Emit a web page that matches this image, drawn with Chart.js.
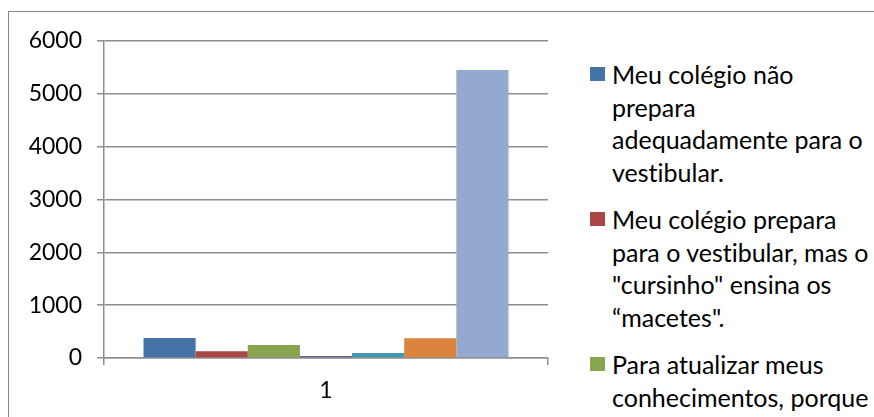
<!DOCTYPE html>
<html>
<head>
<meta charset="utf-8">
<script src="https://cdn.jsdelivr.net/npm/chart.js@4/dist/chart.umd.min.js"></script>
<style>
  html, body { margin: 0; padding: 0; background: #fff; overflow: hidden; }
  body { width: 874px; height: 417px; position: relative; font-family: Lato, "Open Sans", sans-serif; font-variant-ligatures: none; }
  #frame { position: absolute; left: 8px; top: 11px; width: 900px; height: 440px; border: 1px solid #888; box-sizing: border-box; }
  #chart-wrap { position: absolute; left: 0; top: 0; width: 560px; height: 417px; }
  #legend { position: absolute; left: 590px; top: 58px; width: 300px; height: 359px; overflow: hidden; }
  .entry { position: relative; padding-left: 22px; margin-bottom: 15px; font-size: 25px; line-height: 32.5px; color: #000; white-space: nowrap; }
  .entry .box { position: absolute; left: 0; top: 9px; width: 15px; height: 14px; }
</style>
</head>
<body>
<div id="frame"></div>
<div id="chart-wrap"><canvas id="barChart"></canvas></div>
<div id="legend"></div>
<script>
// Data
const categories = ['1'];
const seriesColors = ['#4572A7', '#AA4643', '#89A54E', '#71588F', '#4198AF', '#DB843D', '#93A9CF'];
const seriesValues = [380, 130, 245, 40, 95, 375, 5450];
// Legend text as it wraps in the reference (only first three entries are visible)
const seriesLabels = [
  ['Meu colégio não', 'prepara', 'adequadamente para o', 'vestibular.'],
  ['Meu colégio prepara', 'para o vestibular, mas o', '"cursinho" ensina os', '“macetes".'],
  ['Para atualizar meus', 'conhecimentos, porque'],
  [], [], [], []
];
const yTicks = [0, 1000, 2000, 3000, 4000, 5000, 6000];

// Build datasets
const datasets = seriesValues.map((v, i) => ({
  label: seriesLabels[i].join(' '),
  data: [v],
  backgroundColor: seriesColors[i],
  borderWidth: 0,
  categoryPercentage: 0.822,
  barPercentage: 1.0
}));

// HTML legend
const legendEl = document.getElementById('legend');
seriesLabels.forEach((lines, i) => {
  if (!lines.length) return;
  const div = document.createElement('div');
  div.className = 'entry';
  div.innerHTML = `<span class="box" style="background:${seriesColors[i]}"></span>` +
    lines.map(t => t.replace(/</g, '&lt;')).join('<br>');
  legendEl.appendChild(div);
});

const gridColor = '#8e8e8e';
const tickFont = { family: 'Lato', size: 23 };

new Chart(document.getElementById('barChart'), {
  type: 'bar',
  data: { labels: categories, datasets: datasets },
  options: {
    responsive: true,
    maintainAspectRatio: false,
    animation: false,
    layout: { padding: { top: 41, right: 12, bottom: 0, left: 0 } },
    plugins: {
      legend: { display: false },
      tooltip: { enabled: false }
    },
    scales: {
      x: {
        offset: true,
        grid: {
          offset: true,
          drawOnChartArea: false,
          drawTicks: true,
          tickLength: 7,
          color: gridColor,
          lineWidth: 1.5
        },
        border: { display: true, color: gridColor, width: 1.5 },
        ticks: { color: '#000', font: tickFont, padding: 12 },
        afterFit: (scale) => { scale.height = 59; }
      },
      y: {
        min: 0,
        max: 6000,
        afterBuildTicks: (scale) => { scale.ticks = yTicks.map(v => ({ value: v })); },
        grid: { color: gridColor, lineWidth: 1.5, tickLength: 7 },
        border: { display: true, color: gridColor, width: 1.5 },
        ticks: { color: '#000', font: tickFont, padding: 15, callback: (v) => String(v) },
        afterFit: (scale) => { scale.width = 104; }
      }
    }
  }
});
</script>
</body>
</html>
